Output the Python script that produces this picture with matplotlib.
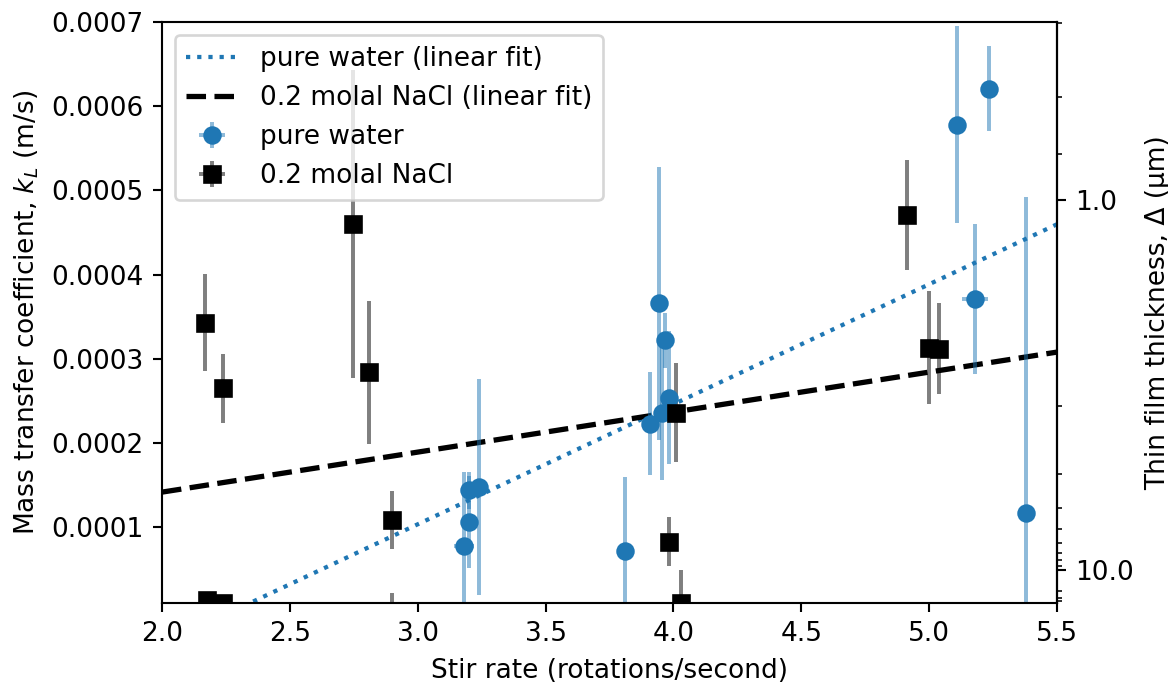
import numpy as np
import matplotlib
matplotlib.use("Agg")
import matplotlib.pyplot as plt
from matplotlib.colors import to_rgba
from matplotlib.ticker import LogLocator, FormatStrFormatter, NullFormatter

# pure water measurements
water_rate = [3.18, 3.20, 3.20, 3.24, 3.81, 3.91, 3.944, 3.954, 3.967, 3.983, 5.11, 5.18, 5.235, 5.38]
water_k = [0.78e-4, 1.06e-4, 1.44e-4, 1.48e-4, 0.72e-4, 2.23e-4, 3.66e-4, 2.36e-4, 3.22e-4, 2.54e-4,
           5.78e-4, 3.71e-4, 6.21e-4, 1.17e-4]
water_kerr = [0.88e-4, 0.55e-4, 0.22e-4, 1.28e-4, 0.88e-4, 0.61e-4, 1.62e-4, 0.80e-4, 0.33e-4, 0.79e-4,
              1.17e-4, 0.89e-4, 0.50e-4, 3.75e-4]
water_rerr = [0.04, 0.01, 0.01, 0.01, 0.01, 0.01, 0.01, 0.01, 0.01, 0.01, 0.01, 0.05, 0.01, 0.01]

# 0.2 molal NaCl measurements
nacl_rate = [2.168, 2.175, 2.24, 2.24, 2.746, 2.81, 2.898, 2.90, 3.983, 4.009, 4.03, 4.912, 5.00, 5.04]
nacl_k = [3.43e-4, 0.135e-4, 2.65e-4, 0.10e-4, 4.60e-4, 2.84e-4, 1.087e-4, -0.3e-4, 0.83e-4, 2.36e-4,
          0.095e-4, 4.71e-4, 3.13e-4, 3.12e-4]
nacl_kerr = [0.58e-4, 0.02e-4, 0.41e-4, 0.02e-4, 1.83e-4, 0.85e-4, 0.34e-4, 0.52e-4, 0.29e-4, 0.59e-4,
             0.40e-4, 0.65e-4, 0.67e-4, 0.54e-4]
nacl_rerr = [0.005] * len(nacl_rate)

# linear fits (end points)
fit_rate = [2.0, 5.5]
water_fit = [-0.39e-4, 4.598e-4]
nacl_fit = [1.417e-4, 3.08e-4]

D = 4.89e-4  # k_L -> film thickness in micrometres

dpi = 190
fig = plt.figure(figsize=(1168 / dpi, 683 / dpi), dpi=dpi)
ax = fig.add_axes([0.1387, 0.1171, 0.905 - 0.1387, 0.9678 - 0.1171])

ax.plot(fit_rate, water_fit, ':', color='C0', lw=1.6, label='pure water (linear fit)')
ax.plot(fit_rate, nacl_fit, '--', color='black', lw=2, label='0.2 molal NaCl (linear fit)')
ax.errorbar(water_rate, water_k, yerr=water_kerr, xerr=water_rerr, fmt='o', color='C0',
            ecolor=to_rgba('C0', 0.5), label='pure water')
ax.errorbar(nacl_rate, nacl_k, yerr=nacl_kerr, xerr=nacl_rerr, fmt='s', color='black',
            ecolor=to_rgba('black', 0.5), label='0.2 molal NaCl')

ax.set_xlim(2.0, 5.5)
ax.set_ylim(1e-5, 7e-4)
ax.yaxis.set_major_formatter(FormatStrFormatter('%.4f'))
ax.set_xlabel('Stir rate (rotations/second)')
ax.set_ylabel('Mass transfer coefficient, $k_L$ (m/s)')
ax.legend(loc='upper left')


def k_to_delta(k):
    k = np.asarray(k, dtype=float)
    with np.errstate(divide='ignore', invalid='ignore'):
        return D / k


sec = ax.secondary_yaxis('right', functions=(k_to_delta, k_to_delta))
sec.yaxis.set_major_locator(LogLocator(base=10))
sec.yaxis.set_minor_locator(LogLocator(base=10, subs=np.arange(2, 10)))
sec.yaxis.set_major_formatter(FormatStrFormatter('%.1f'))
sec.yaxis.set_minor_formatter(NullFormatter())
sec.set_ylabel('Thin film thickness, Δ (μm)')

fig.savefig('out.png', dpi=dpi)
